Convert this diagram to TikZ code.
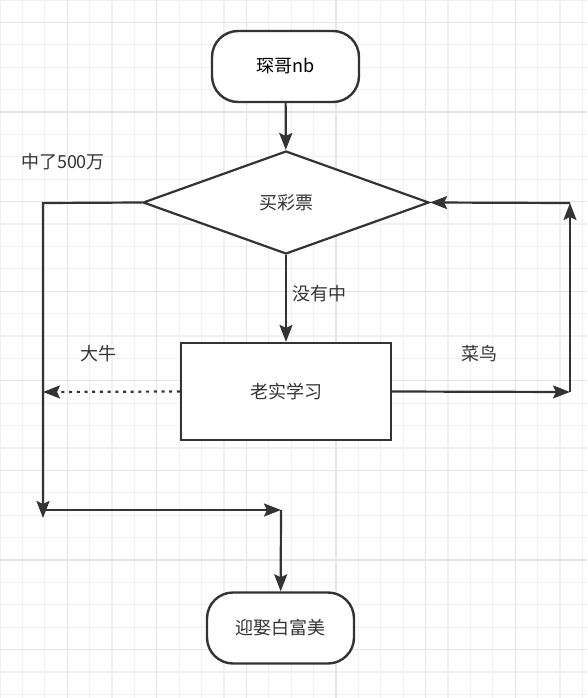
\documentclass[tikz,border=0pt]{standalone}
\usepackage{fontspec}
\setmainfont{Noto Sans CJK SC}
\usetikzlibrary{shapes.geometric,arrows.meta}
\definecolor{ink}{HTML}{333333}
\tikzset{
term/.style = {rectangle,rounded corners=26pt,draw=ink,line width=2.4pt,fill=white,minimum width=147pt,minimum height=71pt,text=ink},
decide/.style = {diamond,draw=ink,line width=2.2pt,fill=white,minimum width=286pt,minimum height=103pt,inner sep=0pt,text=ink},
box/.style = {rectangle,draw=ink,line width=2.2pt,fill=white,minimum width=210pt,minimum height=97pt,text=ink},
lbl/.style = {text=ink},
flow/.style = {draw=ink,line width=2.2pt,-{Stealth[length=17pt,width=13pt,inset=3pt]}},
minorgrid/.style = {draw=black!6,line width=1.2pt},
majorgrid/.style = {draw=black!10,line width=1.2pt}
}

\begin{document}
\begin{tikzpicture}[x=1pt,y=-1pt,font=\fontsize{18}{22}\selectfont]
\useasboundingbox (0,0) rectangle (587,698);
\draw[minorgrid,step=22.4pt] (0,0) grid (587,698);
\begin{scope}[shift={(67.2,22.4)}]
\draw[majorgrid,step=89.6pt] (-67.2,-22.4) grid (519.8,675.6);
\end{scope}
\node[term,text=black] (start) at(285.5,66.5) {琛哥nb};
\node[decide] (buy) at(286,202.5) {买彩票};
\node[box] (study) at(286,391.5) {老实学习};
\node[term] (wed) at(280.5,628) {迎娶白富美};
\coordinate (lt) at(43,203);
\coordinate (lb) at(43,518);
\coordinate (lm) at(43,392);
\coordinate (ml) at(45,510);
\coordinate (mr) at(281,510);
\coordinate (rb) at(570,392);
\coordinate (rt) at(570,203);
\node[lbl] (win) at(63,162) {中了500万};
\node[lbl] (niu) at(98,354) {大牛};
\node[lbl] (cai) at(479,354) {菜鸟};
\draw[flow] (start) -- (buy);
\draw[flow] (buy) -- node[right,lbl,xshift=2pt,yshift=4.5pt]{没有中} (study);
\draw[flow] (buy.west) -- (lt) -- (lb);
\draw[flow,dash pattern=on 3pt off 4.7pt] (study.west) -- (lm);
\draw[flow] (ml) -- (mr);
\draw[flow] (mr) -- (wed);
\draw[flow] (study.east) -- (rb);
\draw[flow] (rb) -- (rt);
\draw[flow] (rt) -- (buy.east);
\end{tikzpicture}
\end{document}
